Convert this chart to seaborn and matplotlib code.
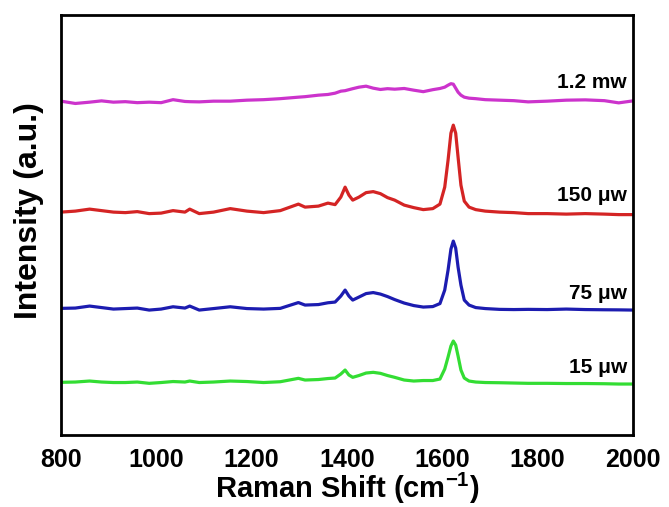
import numpy as np
import pandas as pd
import matplotlib
matplotlib.use("Agg")
import matplotlib.pyplot as plt
import seaborn as sns

# Raman shift grid (cm^-1)
shift = [800, 830, 860, 885, 910, 935, 960, 985, 1010, 1035,
         1060, 1070, 1090, 1120, 1155, 1190, 1225, 1260, 1298, 1312,
         1340, 1360, 1375, 1387, 1396, 1404, 1412, 1425, 1440, 1455,
         1470, 1485, 1500, 1520, 1540, 1560, 1580, 1595, 1605, 1612,
         1618, 1623, 1628, 1633, 1639, 1646, 1656, 1670, 1690, 1720,
         1750, 1780, 1820, 1860, 1900, 1940, 1970, 2000]

# Offset spectra (a.u.) for each excitation power
p_1p2mw = [334, 331.7, 333, 334.3, 333, 333.5, 332.5, 333, 332.5, 335.5,
           333.7, 333.5, 333.3, 334, 334, 335, 335.5, 336.5, 338, 338.5,
           340, 340.7, 342, 344, 344.5, 345.5, 346.5, 348, 349, 347,
           345.7, 346.5, 346, 346.7, 345, 343.5, 345.5, 346.7, 348, 350,
           351.5, 351, 347, 343, 340, 338, 337, 336.5, 335.5, 335,
           334.5, 333.3, 334, 335, 335.3, 334.5, 332.3, 334.3]

p_150uw = [223, 224, 226, 224.5, 223, 222.5, 223.5, 221.5, 222, 224.5,
           223, 226, 221.5, 223, 226.5, 224, 222.5, 224.5, 231, 228,
           229, 232, 230.5, 238, 248, 240, 235, 238, 242.5, 243.5,
           241.5, 237.5, 235, 230, 227.5, 225.5, 226.5, 231, 248, 275,
           302, 310, 302, 278, 250, 234, 228, 225.5, 224, 223,
           222.5, 221.5, 221.5, 221, 221.5, 221, 220.5, 220.5]

p_75uw = [126.7, 127, 129, 127.5, 126, 126.5, 127, 125, 126, 128.3,
          127, 129, 125, 126.5, 128.3, 126.5, 126, 126.7, 132.5, 130,
          130.5, 132.3, 133, 139, 145, 139, 135, 138, 141.5, 142.5,
          141, 138.5, 135.5, 132, 129.5, 128, 128.5, 131.5, 145, 165,
          186, 194, 187, 168, 150, 135, 130, 127.5, 126.5, 125.7,
          125.5, 125.7, 125.5, 126, 125.5, 125.3, 125.2, 125]

p_15uw = [52.7, 53, 54, 53, 52.5, 52.5, 53, 51.7, 52.5, 53.5,
          53, 54, 52.5, 53, 54, 53.5, 52.5, 53.3, 56.7, 55,
          55.5, 56.5, 57, 61, 65, 60, 57.7, 59.5, 62, 62.7,
          61.7, 59.5, 57.7, 55, 54, 54.5, 54.5, 56, 66, 78,
          89, 94, 90, 79, 65, 57, 54, 53, 52.5, 52.3,
          52, 51.7, 51.7, 51.5, 51.5, 51.3, 51, 51]

labels = ["1.2 mw", "150 \u03bcw", "75 \u03bcw", "15 \u03bcw"]
colors = ["#cc33cc", "#d42424", "#1c1cb0", "#33dd33"]
spectra = [p_1p2mw, p_150uw, p_75uw, p_15uw]

df = pd.concat(
    [pd.DataFrame({"shift": shift, "intensity": s, "power": lab})
     for s, lab in zip(spectra, labels)],
    ignore_index=True,
)

sns.set_style("white")
plt.rcParams["font.family"] = ["Liberation Sans", "DejaVu Sans"]
plt.rcParams["font.weight"] = "bold"
plt.rcParams["text.color"] = "black"
plt.rcParams["axes.labelcolor"] = "black"
plt.rcParams["xtick.color"] = "black"
plt.rcParams["mathtext.fontset"] = "custom"
plt.rcParams["mathtext.rm"] = "Liberation Sans:bold"
plt.rcParams["mathtext.bf"] = "Liberation Sans:bold"
plt.rcParams["mathtext.default"] = "bf"

fig = plt.figure(figsize=(6.69, 5.07), dpi=100)
ax = fig.add_axes([0.0912, 0.142, 0.855, 0.828])

sns.lineplot(data=df, x="shift", y="intensity", hue="power",
             palette=dict(zip(labels, colors)), hue_order=labels,
             linewidth=2.3, legend=False, ax=ax, sort=False)

# Power labels at the right end of each trace
label_y = [353, 240, 142, 68]
for lab, yy in zip(labels, label_y):
    ax.text(1987, yy, lab, ha="right", va="center", fontsize=15,
            fontweight="bold", color="black")

ax.set_xlim(800, 2000)
ax.set_ylim(0, 420)
ax.set_xticks([800, 1000, 1200, 1400, 1600, 1800, 2000])
ax.set_yticks([])
ax.tick_params(axis="x", direction="in", length=7, width=1.8,
               labelsize=18, pad=9, colors="black")
for lbl in ax.get_xticklabels():
    lbl.set_fontweight("bold")
for sp in ax.spines.values():
    sp.set_linewidth(2.0)
    sp.set_color("black")

ax.set_xlabel("Raman Shift (cm$^{-1}$)", fontsize=21, fontweight="bold")
ax.xaxis.set_label_coords(0.5, -0.085)
ax.set_ylabel("Intensity (a.u.)", fontsize=23, fontweight="bold")
ax.yaxis.set_label_coords(-0.030, 0.535)

fig.savefig("out.png", dpi=100)
